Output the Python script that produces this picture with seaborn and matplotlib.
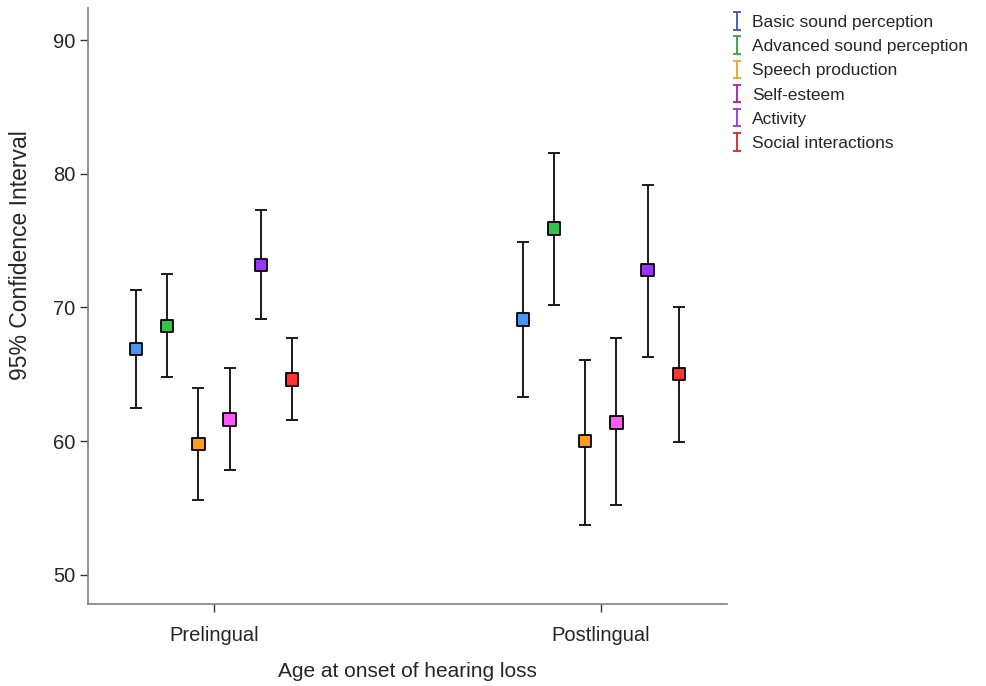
import numpy as np
import pandas as pd
import seaborn as sns
import matplotlib.pyplot as plt

# Data
groups = ['Prelingual', 'Postlingual']
measures = ['Basic sound perception', 'Advanced sound perception', 'Speech production',
            'Self-esteem', 'Activity', 'Social interactions']

means = {
    'Prelingual': [66.9, 68.6, 59.8, 61.6, 73.2, 64.6],
    'Postlingual': [69.1, 75.9, 60.0, 61.4, 72.8, 65.0],
}
lower = {
    'Prelingual': [62.5, 64.8, 55.6, 57.8, 69.1, 61.6],
    'Postlingual': [63.3, 70.2, 53.7, 55.2, 66.3, 59.9],
}
upper = {
    'Prelingual': [71.3, 72.5, 64.0, 65.5, 77.3, 67.7],
    'Postlingual': [74.9, 81.6, 66.1, 67.7, 79.2, 70.0],
}

marker_colors = ['#4a94f2', '#33c24a', '#ff9c1c', '#ff5cf5', '#9b34ff', '#ff3535']
legend_colors = ['#3a55b8', '#2ea343', '#f0a030', '#b018b0', '#9236e2', '#d82424']

rows = []
for gi, g in enumerate(groups):
    for mi, m in enumerate(measures):
        rows.append([g, m, gi + (mi - 2.5) * 0.0806, means[g][mi], lower[g][mi], upper[g][mi]])
df = pd.DataFrame(rows, columns=['Group', 'Measure', 'xpos', 'Mean', 'Low', 'High'])

sns.set_style('white')
plt.rcParams['font.family'] = ['Liberation Sans', 'DejaVu Sans']

fig = plt.figure(figsize=(9.86, 6.86), dpi=100)
ax = fig.add_axes([0.0892, 0.1195, 0.648, 0.8685])

ax.errorbar(df['xpos'], df['Mean'],
            yerr=[df['Mean'] - df['Low'], df['High'] - df['Mean']],
            fmt='none', ecolor='#1a1a1a', elinewidth=1.4, capsize=4, capthick=1.4, zorder=2)

sns.scatterplot(data=df, x='xpos', y='Mean', hue='Measure', palette=marker_colors,
                marker='s', s=80, edgecolor='black', linewidth=1.3, zorder=3,
                legend=False, ax=ax)

# legend with errorbar-style handles
handles = []
for m, c in zip(measures, legend_colors):
    h = ax.errorbar([np.nan], [np.nan], yerr=[np.nan], fmt='none', ecolor=c,
                    elinewidth=1.3, capsize=3, capthick=1.3, label=m)
    handles.append(h)
fig.legend(handles=handles, labels=measures, loc='upper left',
           bbox_to_anchor=(0.732, 0.991), frameon=False, fontsize=12.5,
           handlelength=0.7, handletextpad=0.55, labelspacing=0.52, borderaxespad=0.1)

ax.set_xlim(-0.326, 1.326)
ax.set_ylim(47.8, 92.4)
ax.set_xticks([0, 1])
ax.set_xticklabels(groups)
ax.set_yticks([50, 60, 70, 80, 90])
ax.set_xlabel('Age at onset of hearing loss', fontsize=15, labelpad=12)
ax.set_ylabel('95% Confidence Interval', fontsize=16.5)
ax.yaxis.set_label_coords(-0.088, 0.585)
ax.tick_params(axis='both', labelsize=14.5, length=6, width=1, color='#333333',
               direction='out', bottom=True, left=True)
ax.tick_params(axis='x', pad=10)
ax.tick_params(axis='y', pad=3)

for s in ['top', 'right']:
    ax.spines[s].set_visible(False)
for s in ['left', 'bottom']:
    ax.spines[s].set_color('#808080')
    ax.spines[s].set_linewidth(1.2)

fig.savefig('out.png', dpi=100)
